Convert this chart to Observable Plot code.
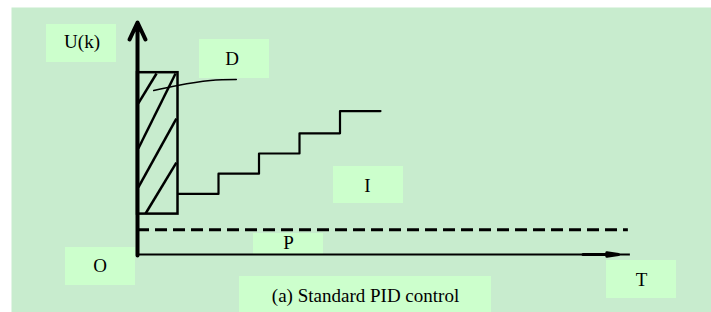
<!DOCTYPE html>
<html><head><meta charset="utf-8">
<script src="https://cdn.jsdelivr.net/npm/d3@7"></script>
<script src="https://cdn.jsdelivr.net/npm/@observablehq/plot@0.6"></script>
<style>
body{margin:0;background:#fff}
#chart svg, #chart svg text { font-family: "Liberation Serif", "Times New Roman", "DejaVu Serif", serif !important; }
</style>
</head><body><div id="chart"></div>
<script>
// ---- data (time in sampling steps k, output U in arbitrary units) ----
const stepK      = [1, 2, 3, 4, 5, 6];          // sampling instants of integral staircase
const stepLevel  = [3, 4, 5, 6, 7.1, 7.1];      // integral output level
const pLevel     = 1.22;                         // proportional (constant) level
const dPulse     = {k0: 0, k1: 1, low: 2, high: 9}; // derivative pulse
const hatchK0    = [0.02, 0.02, 0.02, 0.2];
const hatchU0    = [7.48, 5.25, 3.32, 2.03];
const hatchK1    = [0.47, 0.94, 0.96, 0.96];
const hatchU1    = [8.96, 8.96, 6.73, 4.55];
const leaderK    = [0.4, 0.99, 1.8, 2.44];
const leaderU    = [8.12, 8.37, 8.61, 8.66];
const axisEndK   = 12.17, axisTopU = 11.485, dashEndK = 12.12;
const labelText  = ["U(k)", "D", "O", "P", "I", "T", "(a) Standard PID control"];
const labelK     = [-1.37, 2.333, -0.926, 3.728, 5.679, 12.444, 5.63];
const labelU     = [10.5, 9.66, -0.589, 0.55, 3.42, -1.233, -2.074];
const boxK1      = [-2.247, 1.531, -1.778, 2.864, 4.84, 11.58, 2.519];
const boxK2      = [-0.519, 3.259, -0.049, 4.593, 6.568, 13.309, 8.741];
const boxU1      = [9.505, 8.713, -1.535, 0, 2.525, -2.178, -2.871];
const boxU2      = [11.386, 10.644, 0.347, 1.04, 4.356, -0.297, -1.089];

const stairs = stepK.map((k, i) => ({k, u: stepLevel[i]}));
const hatch = hatchK0.map((k0, i) => ({k0, u0: hatchU0[i], k1: hatchK1[i], u1: hatchU1[i]}));
const leader = leaderK.map((k, i) => ({k, u: leaderU[i]}));
const labels = labelText.map((t, i) => ({t, k: labelK[i], u: labelU[i],
  x1: boxK1[i], x2: boxK2[i], y1: boxU1[i], y2: boxU2[i]}));

const font = "Liberation Serif, Times New Roman, serif";
const chart = Plot.plot({
  width: 711, height: 312,
  margin: 0,
  style: {background: "#fff"},
  x: {domain: [-3.383, 14.173], axis: null},
  y: {domain: [-2.871, 12.574], axis: null},
  marks: [
    Plot.frame({fill: "#c8ecce", stroke: null, insetLeft: 11, insetTop: 7}),
    Plot.rect(labels, {x1: "x1", x2: "x2", y1: "y1", y2: "y2", fill: "#ccffcc"}),
    // derivative pulse
    Plot.rect([dPulse], {x1: "k0", x2: "k1", y1: "low", y2: "high", fill: "none", stroke: "#000", strokeWidth: 2.5}),
    Plot.link(hatch, {x1: "k0", y1: "u0", x2: "k1", y2: "u1", stroke: "#000", strokeWidth: 2.5}),
    Plot.line(leader, {x: "k", y: "u", curve: "natural", stroke: "#000", strokeWidth: 1.5}),
    // integral staircase
    Plot.line(stairs, {x: "k", y: "u", curve: "step-after", stroke: "#000", strokeWidth: 2.2}),
    // proportional dashed level
    Plot.ruleY([pLevel], {x1: 0, x2: dashEndK, stroke: "#000", strokeWidth: 3, strokeDasharray: "12,6"}),
    // axes
    Plot.ruleY([0], {x1: 0, x2: axisEndK, stroke: "#000", strokeWidth: 2.2}),
    Plot.arrow([{a: 11.0, b: 11.877}], {x1: "a", x2: "b", y1: 0, y2: 0, stroke: "#000", strokeWidth: 3, headLength: 12, headAngle: 18}),
    Plot.arrow([{a: -0.05, b: axisTopU}], {x1: 0, x2: 0, y1: "a", y2: "b", stroke: "#000", strokeWidth: 4, headLength: 7, headAngle: 50}),
    Plot.text(labels, {x: "k", y: "u", text: "t", fontSize: 19, fill: "#000", fontFamily: font})
  ]
});
document.getElementById("chart").append(chart);
</script>
</body></html>
